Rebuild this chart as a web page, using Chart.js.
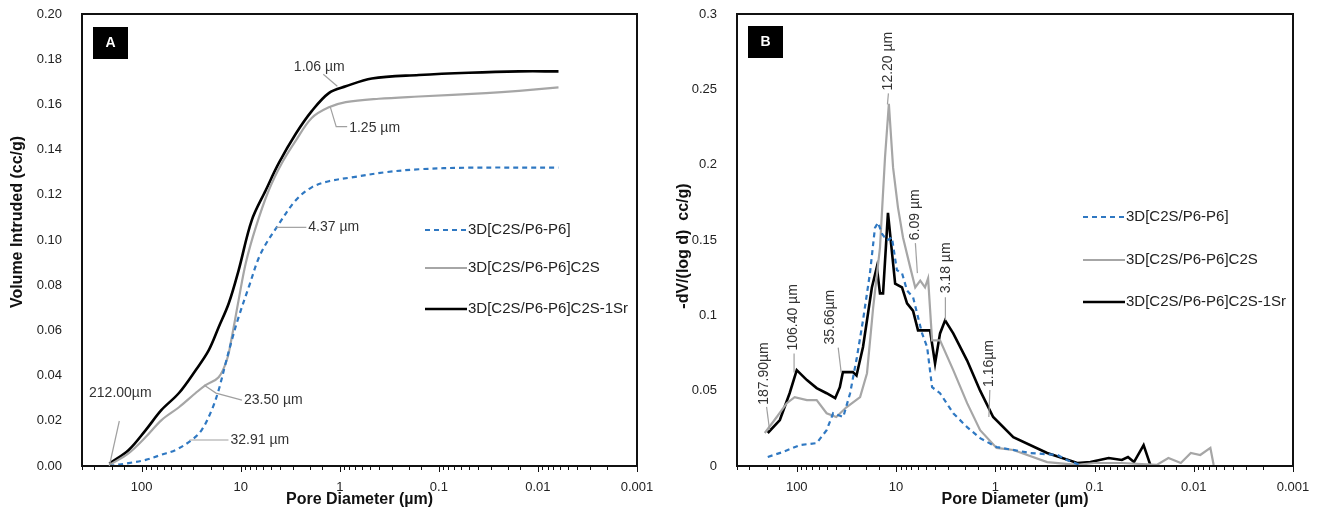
<!DOCTYPE html>
<html>
 <head>
  <meta charset="utf-8">
  <title>Pore size distribution</title>
  <script src="https://cdn.jsdelivr.net/npm/chart.js"></script>
  <style>
    body { margin: 0; background: #fff; }
    .panel { position: absolute; top: 0; width: 659px; height: 518px; }
  </style>
 </head>
 <body>
  <div class="panel" style="left:0"><canvas id="chartA" width="659" height="518"></canvas></div>
  <div class="panel" style="left:659px"><canvas id="chartB" width="659" height="518"></canvas></div>
  <script type="text/javascript">
    // series names
    var seriesNames = ['3D[C2S/P6-P6]', '3D[C2S/P6-P6]C2S', '3D[C2S/P6-P6]C2S-1Sr'];

    // panel A: cumulative volume intruded (cc/g) vs pore diameter (um)
    var blueA_d = [212, 135, 91, 63, 45.3, 31.3, 24.8, 19.6, 16.7, 14.2, 12.3, 10.5, 8.3, 6.28, 4.13, 2.78, 1.92, 1.29, 0.757, 0.343, 0.159, 0.05, 0.0062];
    var blueA_v = [0, 0.0013, 0.0027, 0.005, 0.0071, 0.0115, 0.0159, 0.0248, 0.0336, 0.0455, 0.0557, 0.0659, 0.0791, 0.094, 0.107, 0.1176, 0.1233, 0.126, 0.1277, 0.130, 0.1313, 0.132, 0.132];
    var grayA_d = [212, 135, 91, 63, 42, 28.5, 22.6, 16.7, 13.8, 12.3, 10.5, 8.9, 7.05, 5.21, 3.85, 2.78, 1.92, 1.29, 0.87, 0.404, 0.159, 0.0335, 0.0155, 0.0062];
    var grayA_v = [0.0004, 0.0057, 0.0128, 0.0203, 0.026, 0.0323, 0.0358, 0.0393, 0.0469, 0.057, 0.0734, 0.0897, 0.1056, 0.122, 0.134, 0.144, 0.154, 0.1587, 0.161, 0.1625, 0.1635, 0.165, 0.166, 0.1675];
    var blackA_d = [212, 135, 91, 63, 42, 28.5, 21, 16.7, 13.2, 10.5, 7.74, 5.59, 4.13, 2.78, 1.92, 1.29, 0.87, 0.475, 0.159, 0.05, 0.0155, 0.0062];
    var blackA_v = [0.001, 0.0071, 0.0159, 0.0248, 0.0323, 0.0424, 0.0513, 0.0614, 0.072, 0.0866, 0.1087, 0.122, 0.134, 0.147, 0.157, 0.165, 0.168, 0.1715, 0.173, 0.174, 0.1746, 0.1746];

    // panel B: -dV/(log d) vs pore diameter (um)
    var blueB_d = [196, 138, 93, 63, 50, 43, 34, 29, 24.8, 21.5, 18.3, 16.3, 15.2, 13.8, 12.3, 11, 9.8, 8.7, 7.74, 6.73, 5.46, 4.86, 4.33, 3.6, 2.65, 1.92, 1.42, 0.97, 0.44, 0.236, 0.19, 0.14];
    var blueB_v = [0.006, 0.0093, 0.0139, 0.0152, 0.0238, 0.035, 0.0325, 0.0483, 0.072, 0.0967, 0.128, 0.158, 0.1616, 0.154, 0.1497, 0.1517, 0.13, 0.128, 0.1165, 0.112, 0.088, 0.079, 0.0523, 0.0483, 0.035, 0.0258, 0.0185, 0.0126, 0.0086, 0.0073, 0.004, 0.0007];
    var grayB_d = [210, 159, 126, 105, 79, 63, 50, 40, 31.6, 23, 19.6, 17, 14.5, 12.9, 11.8, 10.7, 9.55, 8.5, 7.2, 6.4, 5.7, 5.1, 4.75, 4.33, 3.6, 2.65, 1.92, 1.42, 0.97, 0.658, 0.30, 0.149, 0.1, 0.053, 0.0236, 0.018, 0.0135, 0.0107, 0.0086, 0.0068, 0.0063];
    var grayB_v = [0.0219, 0.0325, 0.0417, 0.0457, 0.0437, 0.0437, 0.035, 0.0325, 0.039, 0.0457, 0.0616, 0.105, 0.145, 0.205, 0.2404, 0.198, 0.1715, 0.1517, 0.132, 0.1185, 0.123, 0.1185, 0.1245, 0.0834, 0.0834, 0.0636, 0.0417, 0.0238, 0.012, 0.0106, 0.0026, 0.0007, 0.002, 0.002, 0.0007, 0.0053, 0.002, 0.0086, 0.0073, 0.012, 0.0007];
    var blackB_d = [196, 148, 118, 100, 79, 63, 50, 41, 36.8, 34.3, 27.2, 25, 21.5, 17.5, 15.6, 14.5, 13.5, 12.05, 10.2, 8.7, 7.74, 6.73, 6.0, 4.54, 4.04, 3.6, 3.2, 2.65, 1.92, 1.42, 1.05, 0.658, 0.30, 0.149, 0.11, 0.072, 0.053, 0.046, 0.04, 0.032, 0.0274];
    var blackB_v = [0.0219, 0.0305, 0.0483, 0.0636, 0.057, 0.0517, 0.0483, 0.045, 0.0523, 0.0623, 0.0623, 0.06, 0.079, 0.1185, 0.132, 0.1146, 0.1146, 0.168, 0.121, 0.1185, 0.108, 0.103, 0.090, 0.090, 0.068, 0.088, 0.0967, 0.088, 0.070, 0.050, 0.0325, 0.0192, 0.0086, 0.002, 0.0026, 0.0053, 0.004, 0.006, 0.0026, 0.0139, 0.0007];

    // callouts: label, pore diameter, value on the curve
    var notesA_text = ['1.06 µm', '1.25 µm', '4.37 µm', '212.00µm', '23.50 µm', '32.91 µm'];
    var notesA_d = [1.06, 1.25, 4.37, 212, 23.5, 32.91];
    var notesA_v = [0.168, 0.159, 0.1056, 0, 0.0358, 0.0115];
    var notesB_text = ['187.90µm', '106.40 µm', '35.66µm', '12.20 µm', '6.09 µm', '3.18 µm', '1.16µm'];
    var notesB_d = [187.9, 106.4, 35.66, 12.2, 6.09, 3.18, 1.16];
    var notesB_v = [0.024, 0.062, 0.062, 0.240, 0.128, 0.0967, 0.0325];

    var FONT = "'Liberation Sans', Arial, sans-serif";

    function pts(d, v) { return d.map((x, i) => ({ x: x, y: v[i] })); }

    function isDecade(v) { var l = Math.log10(v); return Math.abs(l - Math.round(l)) < 1e-6; }

    function decadeLabel(v) {
        if (!isDecade(v)) return '';
        var l = Math.round(Math.log10(v));
        return l >= 0 ? String(Math.pow(10, l)) : Math.pow(10, l).toFixed(-l);
    }

    // offsets of leader lines and texts from the callout anchor (pixels)
    var layoutA = [
        { path: [[-14, -12]], t: [-18, -19], align: 'center' },
        { path: [[6, 20], [17, 20]], t: [19, 21], align: 'left' },
        { path: [[30, 0]], t: [32, 0], align: 'left' },
        { path: [[10, -45]], t: [11, -73], align: 'center' },
        { path: [[12, 8], [38, 15]], t: [40, 15], align: 'left' },
        { path: [[39, 0]], t: [41, 0], align: 'left' }
    ];
    var layoutB = [
        { path: [[-3, -23]], t: [-5, -25], rot: true },
        { path: [[0, -19]], t: [-1, -22], rot: true },
        { path: [[-3, -25]], t: [-11, -28], rot: true },
        { path: [[1, -11]], t: [1, -14], rot: true },
        { path: [[-2, -30]], t: [-2, -33], rot: true },
        { path: [[0, -23]], t: [1, -27], rot: true },
        { path: [[1, -27]], t: [0, -30], rot: true }
    ];

    var decor = {
        id: 'decor',
        afterDraw(chart, args, o) {
            var ctx = chart.ctx, a = chart.chartArea, xs = chart.scales.x, ys = chart.scales.y;
            ctx.save();
            // frame
            ctx.strokeStyle = '#111';
            ctx.lineWidth = 2;
            ctx.strokeRect(a.left, a.top, a.right - a.left, a.bottom - a.top);
            // log ticks
            ctx.lineWidth = 1;
            xs.ticks.forEach(t => {
                var px = Math.round(xs.getPixelForValue(t.value)) + 0.5;
                ctx.beginPath();
                ctx.moveTo(px, a.bottom);
                ctx.lineTo(px, a.bottom + (isDecade(t.value) ? 6 : 4));
                ctx.stroke();
            });
            // panel letter
            ctx.fillStyle = '#000';
            ctx.fillRect(o.box[0], o.box[1], 35, 32);
            ctx.fillStyle = '#fff';
            ctx.font = 'bold 14px ' + FONT;
            ctx.textAlign = 'center';
            ctx.textBaseline = 'middle';
            ctx.fillText(o.letter, o.box[0] + 17.5, o.box[1] + 16.5);
            // axis titles
            ctx.fillStyle = '#111';
            ctx.font = 'bold 16px ' + FONT;
            ctx.fillText('Pore Diameter (µm)', (a.left + a.right) / 2, 500);
            ctx.save();
            ctx.translate(o.yTitle[1], o.yTitle[2]);
            ctx.rotate(-Math.PI / 2);
            ctx.fillText(o.yTitle[0], 0, 0);
            ctx.restore();
            // legend
            ctx.font = '15px ' + FONT;
            ctx.textAlign = 'left';
            chart.data.datasets.forEach((ds, i) => {
                var y = o.legendY[i];
                ctx.save();
                ctx.strokeStyle = ds.borderColor;
                ctx.lineWidth = ds.borderWidth;
                ctx.setLineDash(ds.borderDash || []);
                ctx.beginPath();
                ctx.moveTo(o.legendX, y);
                ctx.lineTo(o.legendX + 42, y);
                ctx.stroke();
                ctx.restore();
                ctx.fillStyle = '#222';
                ctx.fillText(ds.label, o.legendX + 43, y);
            });
            // callouts
            o.notes.text.forEach((txt, i) => {
                var L = o.layout[i];
                var px = xs.getPixelForValue(o.notes.d[i]), py = ys.getPixelForValue(o.notes.v[i]);
                ctx.strokeStyle = '#a0a0a0';
                ctx.lineWidth = 1.2;
                ctx.beginPath();
                ctx.moveTo(px, py);
                L.path.forEach(p => ctx.lineTo(px + p[0], py + p[1]));
                ctx.stroke();
                ctx.fillStyle = '#333';
                ctx.font = '14px ' + FONT;
                ctx.textBaseline = 'middle';
                if (L.rot) {
                    ctx.save();
                    ctx.translate(px + L.t[0], py + L.t[1]);
                    ctx.rotate(-Math.PI / 2);
                    ctx.textAlign = 'left';
                    ctx.fillText(txt, 0, 0);
                    ctx.restore();
                } else {
                    ctx.textAlign = L.align;
                    ctx.fillText(txt, px + L.t[0], py + L.t[1]);
                }
            });
            ctx.restore();
        }
    };

    function makeChart(id, sets, yMax, yStep, yFmt, tension, rightPad, deco) {
        var styles = [
            { borderColor: '#2f78c2', borderWidth: 2.2, borderDash: [5, 4] },
            { borderColor: '#a6a6a6', borderWidth: 2.2 },
            { borderColor: '#000000', borderWidth: 2.6 }
        ];
        return new Chart(document.getElementById(id), {
            type: 'line',
            data: {
                datasets: sets.map((s, i) => Object.assign({
                    label: seriesNames[i],
                    data: s,
                    pointRadius: 0,
                    fill: false,
                    tension: tension
                }, styles[i]))
            },
            options: {
                responsive: false,
                animation: false,
                layout: { padding: { top: 14, right: rightPad, left: 0, bottom: 0 } },
                plugins: { legend: { display: false }, tooltip: { enabled: false }, decor: deco },
                scales: {
                    x: {
                        type: 'logarithmic', reverse: true, min: 0.001, max: 400,
                        grid: { display: false }, border: { display: false },
                        ticks: { autoSkip: false, maxRotation: 0, padding: 6, color: '#222',
                                 font: { family: FONT, size: 13 }, callback: decadeLabel },
                        afterFit: s => { s.height = 52; s.paddingLeft = 0; s.paddingRight = 0; }
                    },
                    y: {
                        min: 0, max: yMax,
                        grid: { display: false }, border: { display: false },
                        ticks: { stepSize: yStep, padding: 12, color: '#222',
                                 font: { family: FONT, size: 13 }, callback: yFmt },
                        afterFit: s => { s.width = deco.yAxisW; s.paddingTop = 0; s.paddingBottom = 0; }
                    }
                }
            },
            plugins: [decor]
        });
    }

    makeChart('chartA', [pts(blueA_d, blueA_v), pts(grayA_d, grayA_v), pts(blackA_d, blackA_v)],
        0.2, 0.02, v => v.toFixed(2), 0.35, 22, {
            letter: 'A', box: [93, 27], yTitle: ['Volume Intruded (cc/g)', 18, 222], yAxisW: 82,
            legendX: 425, legendY: [230, 268, 309],
            notes: { text: notesA_text, d: notesA_d, v: notesA_v }, layout: layoutA
        });

    makeChart('chartB', [pts(blueB_d, blueB_v), pts(grayB_d, grayB_v), pts(blackB_d, blackB_v)],
        0.3, 0.05, v => String(+v.toFixed(2)), 0, 25, {
            letter: 'B', box: [89, 26], yTitle: ['-dV/(log d)  cc/g)', 25, 246], yAxisW: 78,
            legendX: 424, legendY: [217, 260, 302],
            notes: { text: notesB_text, d: notesB_d, v: notesB_v }, layout: layoutB
        });
  </script>
 </body>
</html>
